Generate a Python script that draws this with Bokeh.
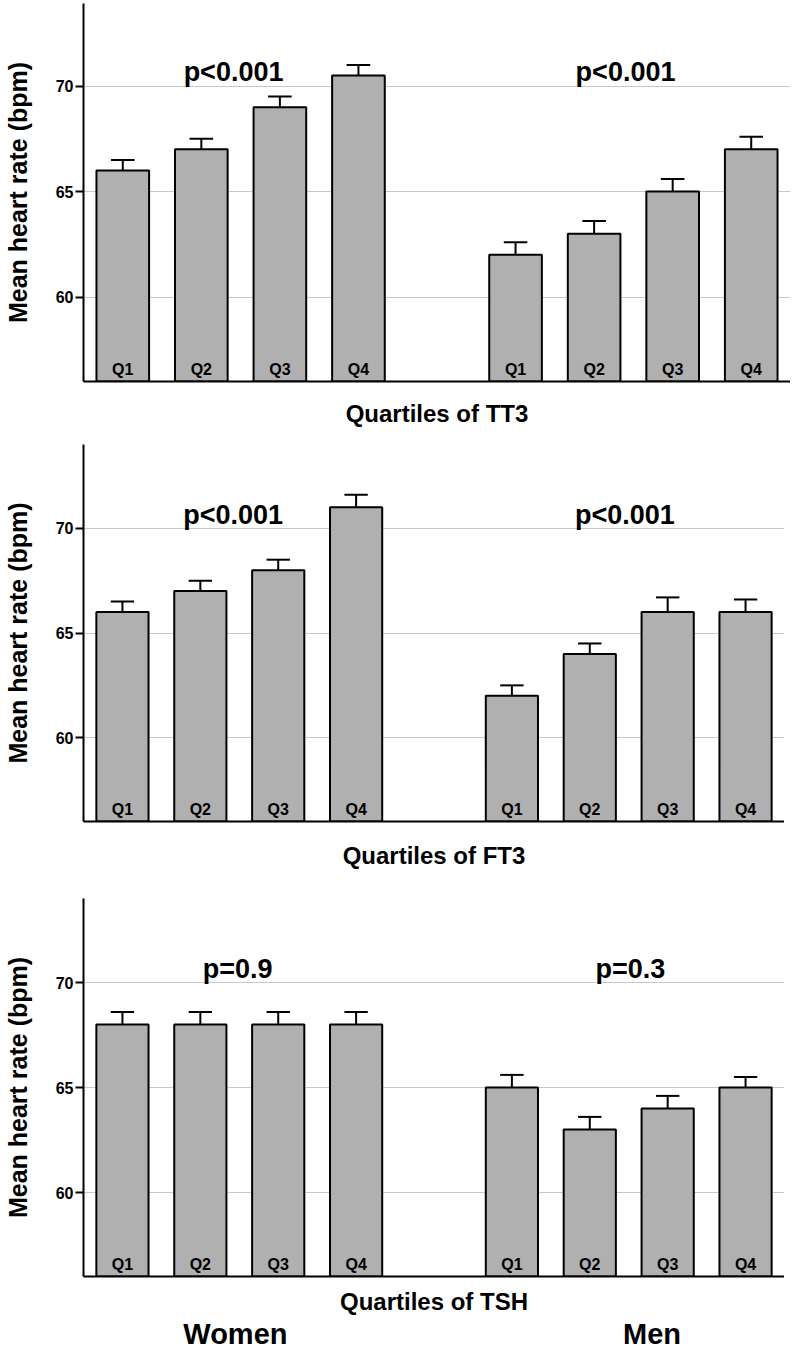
from bokeh.plotting import figure
from bokeh.layouts import column
from bokeh.models import FixedTicker, LinearAxis, ColumnDataSource, Range1d
from bokeh.core.properties import value
from bokeh.embed import file_html
from bokeh.resources import INLINE

# ---------------- data ----------------
quartiles = ["Q1", "Q2", "Q3", "Q4"]
groups = ["Women", "Men"]
hormones = ["TT3", "FT3", "TSH"]
y_ticks = [60, 65, 70]

p_women = ["p<0.001", "p<0.001", "p=0.9"]
p_men = ["p<0.001", "p<0.001", "p=0.3"]

tt3_women = [66, 67, 69, 70.5]
tt3_men = [62, 63, 65, 67]
tt3_women_se = [0.5, 0.5, 0.5, 0.5]
tt3_men_se = [0.6, 0.6, 0.6, 0.6]

ft3_women = [66, 67, 68, 71]
ft3_men = [62, 64, 66, 66]
ft3_women_se = [0.5, 0.5, 0.5, 0.6]
ft3_men_se = [0.5, 0.5, 0.7, 0.6]

tsh_women = [68, 68, 68, 68]
tsh_men = [65, 63, 64, 65]
tsh_women_se = [0.6, 0.6, 0.6, 0.6]
tsh_men_se = [0.6, 0.6, 0.6, 0.5]

# ---------------- style ----------------
FONT = "Liberation Sans"
BAR_FILL = "#b0b0b0"
GRID = "#c8c8c8"
Y0 = 56


def make_panel(hormone, women, men, wse, mse, pw, pm, pw_x, pm_x,
               width, height, y_end, b_left, b_top, b_bottom, label_standoff,
               group_axis=False):
    p = figure(width=width, height=height,
               x_range=Range1d(-0.5, 8.5), y_range=Range1d(Y0, y_end),
               output_backend="svg", toolbar_location=None,
               min_border_left=b_left, min_border_right=0,
               min_border_top=b_top, min_border_bottom=b_bottom)
    p.outline_line_color = None
    p.background_fill_color = "white"
    p.border_fill_color = "white"
    p.xgrid.visible = False
    p.ygrid.grid_line_color = GRID
    p.ygrid.grid_line_width = 1

    # y axis
    p.yaxis.ticker = FixedTicker(ticks=y_ticks)
    p.yaxis.minor_tick_line_color = None
    p.yaxis.major_tick_in = 0
    p.yaxis.major_tick_out = 8
    p.yaxis.major_tick_line_width = 2
    p.yaxis.axis_line_width = 2
    p.yaxis.major_label_standoff = 2
    p.yaxis.major_label_text_font = FONT
    p.yaxis.major_label_text_font_style = "bold"
    p.yaxis.major_label_text_font_size = "16px"
    p.yaxis.major_label_text_color = "black"
    p.yaxis.axis_label = "Mean heart rate (bpm)"
    p.yaxis.axis_label_text_font = FONT
    p.yaxis.axis_label_text_font_style = "bold"
    p.yaxis.axis_label_text_font_size = "25px"
    p.yaxis.axis_label_text_color = "black"
    p.yaxis.axis_label_standoff = 21

    # x axis
    p.xaxis.ticker = FixedTicker(ticks=[])
    p.xaxis.minor_tick_line_color = None
    p.xaxis.major_tick_line_color = None
    p.xaxis.major_tick_in = 0
    p.xaxis.major_tick_out = 0
    p.xaxis.major_label_standoff = 0
    p.xaxis.axis_line_width = 2
    p.xaxis.axis_label = "Quartiles of " + hormone
    p.xaxis.axis_label_text_font = FONT
    p.xaxis.axis_label_text_font_style = "bold"
    p.xaxis.axis_label_text_font_size = "24px"
    p.xaxis.axis_label_text_color = "black"
    p.xaxis.axis_label_standoff = label_standoff

    xs = list(range(0, 4)) + list(range(5, 9))
    tops = list(women) + list(men)
    ses = list(wse) + list(mse)
    src = ColumnDataSource(dict(
        x=xs, top=tops, err=[t + s for t, s in zip(tops, ses)],
        cl=[x - 0.15 for x in xs], cr=[x + 0.15 for x in xs],
        lab=quartiles * 2,
    ))

    p.segment(x0="x", y0="top", x1="x", y1="err", source=src,
              line_color="black", line_width=2)
    p.segment(x0="cl", y0="err", x1="cr", y1="err", source=src,
              line_color="black", line_width=2)
    p.vbar(x="x", top="top", bottom=Y0, width=0.67, source=src,
           fill_color=BAR_FILL, line_color="black", line_width=2)
    p.text(x="x", y=Y0, text="lab", source=src, y_offset=-12,
           text_font=value(FONT), text_font_style="bold",
           text_font_size="16px", text_align="center",
           text_baseline="middle", text_color="black")
    p.text(x=[pw_x, pm_x], y=[70.65, 70.65], text=[pw, pm],
           text_font=value(FONT), text_font_style="bold",
           text_font_size="27px", text_align="center",
           text_baseline="middle", text_color="black")

    if group_axis:
        gx = [1.45, 6.8]
        ax = LinearAxis(ticker=FixedTicker(ticks=gx),
                        major_label_overrides={gx[0]: groups[0], gx[1]: groups[1]},
                        axis_line_color=None, major_tick_line_color=None,
                        minor_tick_line_color=None, major_tick_in=0,
                        major_tick_out=0, major_label_standoff=0,
                        major_label_text_font=FONT,
                        major_label_text_font_style="bold",
                        major_label_text_font_size="29px",
                        major_label_text_color="black")
        p.add_layout(ax, "below")
    return p


p1 = make_panel(hormones[0], tt3_women, tt3_men, tt3_women_se, tt3_men_se,
                p_women[0], p_men[0], 1.41, 6.40,
                width=790, height=438, y_end=73.91, b_left=79, b_top=3,
                b_bottom=57, label_standoff=18)
p2 = make_panel(hormones[1], ft3_women, ft3_men, ft3_women_se, ft3_men_se,
                p_women[1], p_men[1], 1.42, 6.45,
                width=784, height=454, y_end=74, b_left=77, b_top=6,
                b_bottom=71, label_standoff=20)
p3 = make_panel(hormones[2], tsh_women, tsh_men, tsh_women_se, tsh_men_se,
                p_women[2], p_men[2], 1.48, 6.52,
                width=784, height=461, y_end=74, b_left=77, b_top=6,
                b_bottom=77, label_standoff=11, group_axis=True)

layout = column(p1, p2, p3, spacing=0)
open("out.html", "w").write(file_html(layout, INLINE))
